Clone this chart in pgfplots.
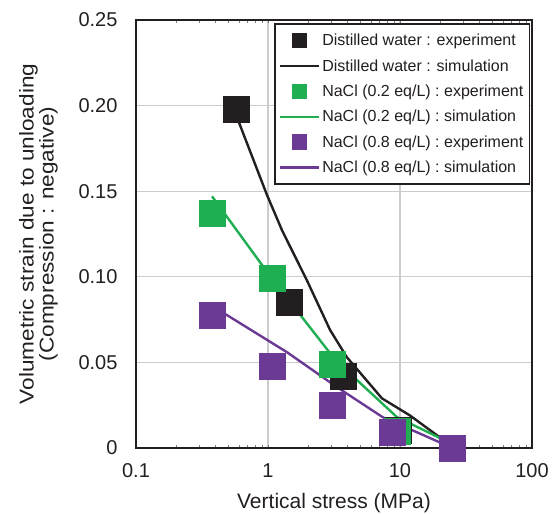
\documentclass[border=0pt]{standalone}
\usepackage{pgfplots}
\pgfplotsset{compat=1.18}
\usepackage{fontspec}
\setmainfont{Liberation Sans}

\definecolor{dwblack}{RGB}{35,31,32}
\definecolor{nagreen}{RGB}{31,174,82}
\definecolor{napurple}{RGB}{106,58,148}

\pgfplotsset{
  simleg/.style={legend image code/.code={\draw[##1,line width=2.4bp] (0bp,0bp) -- (39bp,0bp);}},
  expleg/.style={legend image code/.code={\fill[##1] (12.5bp,-7bp) rectangle (26.5bp,7bp);}},
}

\begin{document}
\begin{tikzpicture}
% page margins as in the reference (axis box at 0,0 -- 396,428)
\useasboundingbox (-136bp,-66bp) rectangle (422bp,448bp);
\begin{axis}[
  scale only axis,
  width=396bp, height=428bp,
  xmode=log,
  xmin=0.1, xmax=100,
  ymin=0, ymax=0.25,
  xtick={0.1,1,10,100},
  xticklabels={0.1,1,10,100},
  minor xtick={},
  ytick={0,0.05,0.1,0.15,0.2,0.25},
  yticklabels={0,0.05,0.10,0.15,0.20,0.25},
  major tick length=0pt,
  grid=major,
  grid style={color=black!20, line width=1.3bp},
  axis line style={color=dwblack, line width=1.6bp},
  tick label style={font=\fontsize{20bp}{24bp}\selectfont, color=dwblack},
  xticklabel style={yshift=-12bp},
  yticklabel style={xshift=-15bp},
  xlabel={Vertical stress (MPa)},
  ylabel={Volumetric strain due to unloading\\(Compression : negative)},
  label style={font=\fontsize{20bp}{20bp}\selectfont, color=dwblack},
  xlabel style={font=\fontsize{21bp}{21bp}\selectfont},
  xlabel shift=9bp,
  ylabel shift=14bp,
  ylabel style={align=center, xscale=1.13},
  clip=false,
  legend style={at={(0.995,0.992)}, anchor=north east,
    font=\fontsize{16bp}{19bp}\selectfont, text=dwblack,
    draw=dwblack, line width=1.5bp, row sep=8.3bp,
    inner xsep=4bp, inner ysep=8bp},
  legend cell align=left,
]
\addlegendimage{expleg, color=dwblack}
\addlegendentry{Distilled water : experiment}
\addlegendimage{simleg, color=dwblack}
\addlegendentry{Distilled water : simulation}
\addlegendimage{expleg, color=nagreen}
\addlegendentry{NaCl (0.2 eq/L) : experiment}
\addlegendimage{simleg, color=nagreen}
\addlegendentry{NaCl (0.2 eq/L) : simulation}
\addlegendimage{expleg, color=napurple}
\addlegendentry{NaCl (0.8 eq/L) : experiment}
\addlegendimage{simleg, color=napurple}
\addlegendentry{NaCl (0.8 eq/L) : simulation}

% simulation
\addplot[forget plot, color=dwblack, line width=2.4bp] coordinates {
  (0.57,0.195) (0.98,0.148) (1.28,0.127) (1.97,0.098) (2.95,0.069)
  (3.96,0.053) (7.3,0.029) (11.9,0.019) (19.4,0.0070) (24.8,0)
};
\addplot[forget plot, color=nagreen, line width=2.4bp] coordinates {
  (0.377,0.147) (1.07,0.099) (3.05,0.054) (4.98,0.038) (9.5,0.018)
  (19.4,0.0064) (24.8,0)
};
\addplot[forget plot, color=napurple, line width=2.4bp] coordinates {
  (0.377,0.083) (1.39,0.056) (3.34,0.0355) (4.98,0.0267) (7.4,0.018)
  (16.9,0.0058) (24.8,0)
};

% experiment
\addplot[forget plot, only marks, mark=square*, mark size=13bp,
  color=dwblack, mark options={draw=none}] coordinates {
  (0.57,0.198) (1.44,0.085) (3.7,0.042) (9.7,0.0105) (24.8,0)
};
\addplot[forget plot, only marks, mark=square*, mark size=13bp,
  color=nagreen, mark options={draw=none}] coordinates {
  (0.377,0.137) (1.07,0.099) (3.05,0.049) (9.5,0.010) (24.8,0)
};
\addplot[forget plot, only marks, mark=square*, mark size=13bp,
  color=napurple, mark options={draw=none}] coordinates {
  (0.377,0.0775) (1.07,0.0477) (3.05,0.025) (8.7,0.0093) (24.8,0)
};
\end{axis}
\end{tikzpicture}
\end{document}
